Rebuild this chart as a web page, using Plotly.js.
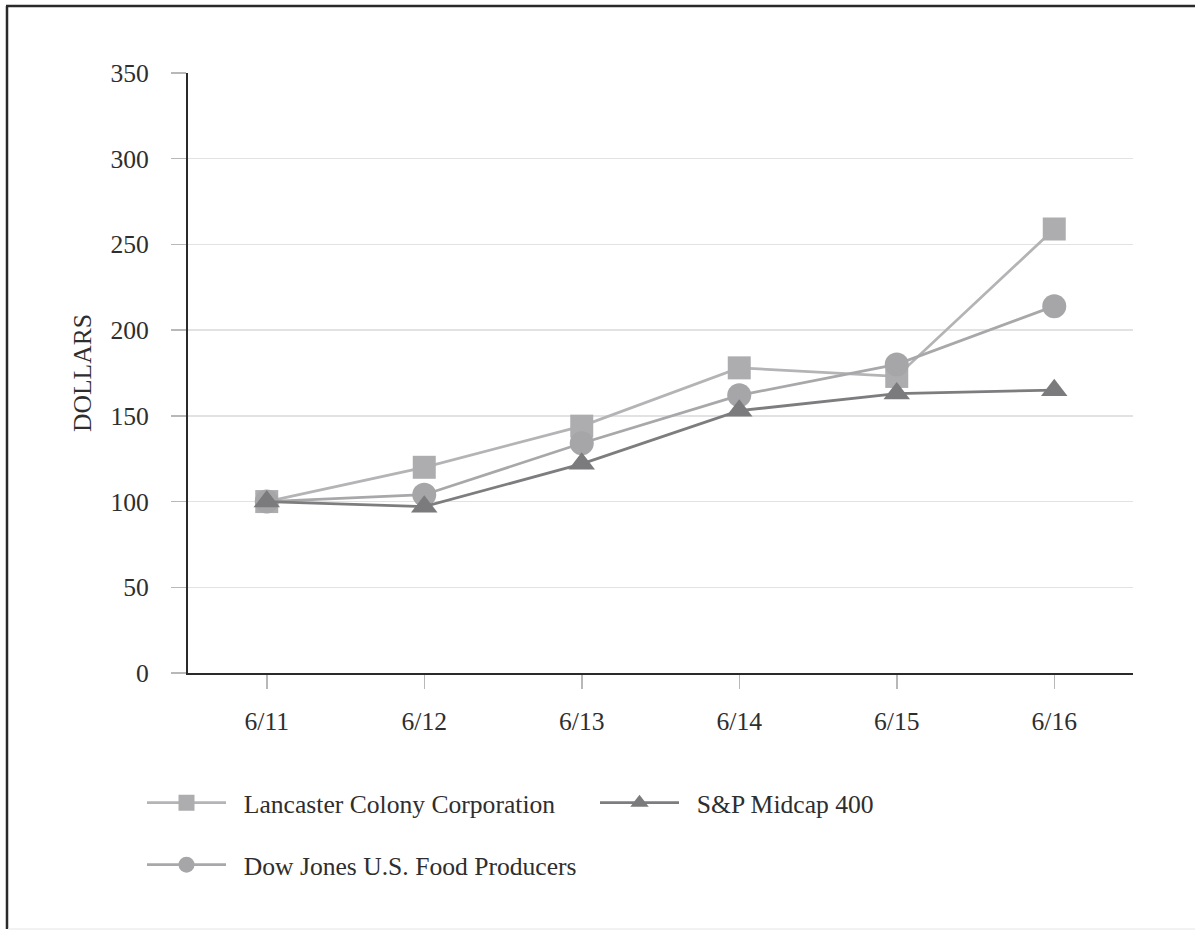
<!DOCTYPE html>
<html>
<head>
<meta charset="utf-8">
<script src="https://cdn.plot.ly/plotly-3.0.1.min.js"></script>
<style>html,body{margin:0;padding:0;background:#fff;}#chart{width:1195px;height:934px;}</style>
</head>
<body>
<div id="chart"></div>
<script>
const categories = ["6/11", "6/12", "6/13", "6/14", "6/15", "6/16"];
const lancaster = [100, 120, 144, 178, 173, 259];
const spMidcap = [100, 97, 122, 153, 163, 165];
const dowFood = [100, 104, 134, 162, 180, 214];
const yTicks = [0, 50, 100, 150, 200, 250, 300, 350];
const seriesNames = ["Lancaster Colony Corporation", "Dow Jones U.S. Food Producers", "S&P Midcap 400"];

const serif = "Liberation Serif, Times New Roman, serif";
const textColor = "#2e2e2e";
const fs = 25.6;
const pad = "\u00a0\u00a0";

const traces = [
  {
    x: categories, y: lancaster, name: pad + seriesNames[0],
    type: "scatter", mode: "lines+markers",
    line: {color: "#b4b4b6", width: 2.8},
    marker: {symbol: "square", size: 23, color: "#adadaf"},
    legend: "legend"
  },
  {
    x: categories, y: dowFood, name: pad + seriesNames[1],
    type: "scatter", mode: "lines+markers",
    line: {color: "#a8a8aa", width: 2.8},
    marker: {symbol: "circle", size: 24, color: "#a6a6a8"},
    legend: "legend2"
  },
  {
    x: categories, y: spMidcap, name: pad + seriesNames[2],
    type: "scatter", mode: "lines+markers",
    line: {color: "#7d7d7f", width: 2.8},
    marker: {symbol: "triangle-up", size: 23, color: "#7b7b7d"},
    legend: "legend"
  }
];

const layout = {
  width: 1195, height: 934,
  paper_bgcolor: "#ffffff", plot_bgcolor: "#ffffff",
  margin: {l: 188, r: 62, t: 73, b: 261},
  font: {family: serif, size: fs, color: textColor},
  showlegend: true,
  xaxis: {
    type: "category", range: [-0.5, 5.5],
    showline: true, linecolor: "#2a2a2a", linewidth: 2,
    ticks: "outside", ticklen: 14, tickcolor: "#b8b8b8", tickwidth: 1.5,
    showgrid: false, zeroline: false,
    ticklabelstandoff: 10,
    tickfont: {family: serif, size: fs, color: textColor}
  },
  yaxis: {
    range: [0, 350], tickvals: yTicks,
    showline: true, linecolor: "#2a2a2a", linewidth: 2,
    ticks: "outside", ticklen: 15, tickcolor: "#b8b8b8", tickwidth: 1.5,
    showgrid: true, gridcolor: "#e2e2e2", gridwidth: 1.5,
    zeroline: false,
    ticklabelstandoff: 17,
    tickfont: {family: serif, size: fs, color: textColor},
    title: {text: "DOLLARS", standoff: 12, font: {family: serif, size: fs, color: textColor}}
  },
  legend: {
    orientation: "h", xref: "container", yref: "container",
    x: 142 / 1195, y: 1 - 803 / 934, xanchor: "left", yanchor: "middle",
    entrywidth: 359, entrywidthmode: "pixels", itemwidth: 79,
    font: {family: serif, size: fs, color: textColor},
    traceorder: "normal", bgcolor: "rgba(0,0,0,0)"
  },
  legend2: {
    orientation: "h", xref: "container", yref: "container",
    x: 142 / 1195, y: 1 - 865 / 934, xanchor: "left", yanchor: "middle",
    itemwidth: 79,
    font: {family: serif, size: fs, color: textColor},
    bgcolor: "rgba(0,0,0,0)"
  },
  shapes: [
    {type: "line", xsizemode: "pixel", ysizemode: "pixel", xref: "paper", yref: "paper",
     xanchor: 0, yanchor: 0, x0: -181, x1: -181, y0: -256, y1: 667, line: {color: "#2a2a2a", width: 2.5}},
    {type: "line", xsizemode: "pixel", ysizemode: "pixel", xref: "paper", yref: "paper",
     xanchor: 0, yanchor: 0, x0: -182, x1: 1010, y0: 667, y1: 667, line: {color: "#2a2a2a", width: 2.5}},
    {type: "line", xsizemode: "pixel", ysizemode: "pixel", xref: "paper", yref: "paper",
     xanchor: 0, yanchor: 0, x0: -180, x1: 1010, y0: -256, y1: -256, line: {color: "#eeeeee", width: 1.5}}
  ]
};

Plotly.newPlot("chart", traces, layout, {displayModeBar: false, staticPlot: true});
</script>
</body>
</html>
